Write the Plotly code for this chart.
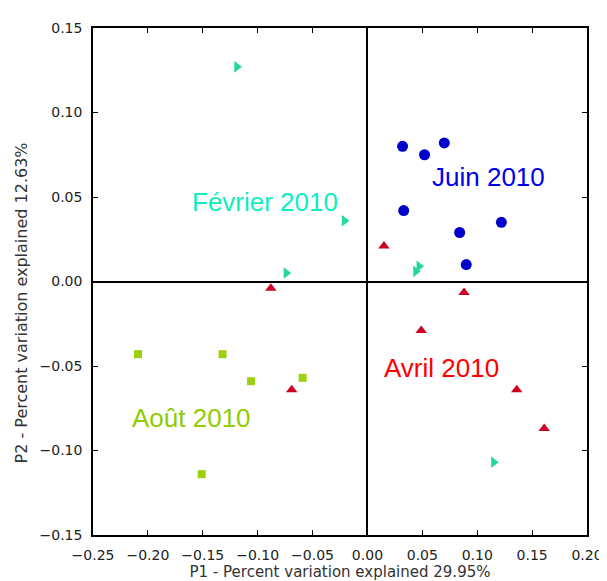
import plotly.graph_objects as go

# PCA scores
fev_x = [-0.119, -0.021, -0.074, 0.044, 0.047, 0.115]
fev_y = [0.127, 0.036, 0.005, 0.006, 0.009, -0.107]

juin_x = [0.032, 0.052, 0.070, 0.033, 0.084, 0.122, 0.090]
juin_y = [0.080, 0.075, 0.082, 0.042, 0.029, 0.035, 0.010]

avril_x = [0.015, -0.088, 0.088, 0.049, 0.136, 0.161, -0.069]
avril_y = [0.021, -0.004, -0.0065, -0.029, -0.064, -0.087, -0.064]

aout_x = [-0.209, -0.132, -0.106, -0.151, -0.059]
aout_y = [-0.043, -0.043, -0.059, -0.114, -0.057]

group_names = ["Février 2010", "Juin 2010", "Avril 2010", "Août 2010"]
label_x = [-0.093, 0.110, 0.0675, -0.160]
label_y = [0.047, 0.062, -0.051, -0.081]

x_title = "P1 - Percent variation explained 29.95%"
y_title = "P2 - Percent variation explained 12.63%"

marker_colors = ["#25d89a", "#0000cc", "#cc0022", "#9ad010"]
text_colors = ["#10eec0", "#0000ee", "#ff0000", "#90cc00"]

fig = go.Figure()

series = [
    (fev_x, fev_y, "triangle-right", 10),
    (juin_x, juin_y, "circle", 11),
    (avril_x, avril_y, "triangle-up", 10),
    (aout_x, aout_y, "square", 8),
]
for i, (xs, ys, sym, sz) in enumerate(series):
    fig.add_trace(go.Scatter(
        x=xs, y=ys, mode="markers", name=group_names[i],
        marker=dict(symbol=sym, size=sz, color=marker_colors[i], line=dict(width=0)),
    ))

for i in range(len(group_names)):
    fig.add_annotation(
        x=label_x[i], y=label_y[i], text=group_names[i], showarrow=False,
        font=dict(family="Liberation Sans", size=26, color=text_colors[i]),
    )

# y title as annotation (sits a bit below the axis centre in the original)
fig.add_annotation(
    xref="paper", x=0, xshift=-72, xanchor="center",
    yref="y", y=-0.013, text=y_title, textangle=-90, showarrow=False,
    font=dict(family="DejaVu Sans", size=16, color="#333"),
)

axis_common = dict(
    showgrid=False, zeroline=True, zerolinecolor="black", zerolinewidth=1.5,
    showline=True, linecolor="black", linewidth=1.5, mirror="allticks",
    ticks="inside", ticklen=5, tickwidth=1, tickcolor="black",
    tickformat=".2f", dtick=0.05,
    tickfont=dict(family="DejaVu Sans", size=14, color="#222"),
    ticklabelstandoff=6,
)

fig.update_xaxes(range=[-0.25, 0.20], tick0=-0.25, **axis_common,
                 title=dict(text=x_title, standoff=4,
                            font=dict(family="DejaVu Sans", size=15, color="#333")))
fig.update_yaxes(range=[-0.15, 0.15], tick0=-0.15, **axis_common)

fig.update_layout(
    width=607, height=581,
    margin=dict(l=85, r=18, t=16, b=44),
    plot_bgcolor="white", paper_bgcolor="white",
    showlegend=False,
)

fig.write_html("out.html")
